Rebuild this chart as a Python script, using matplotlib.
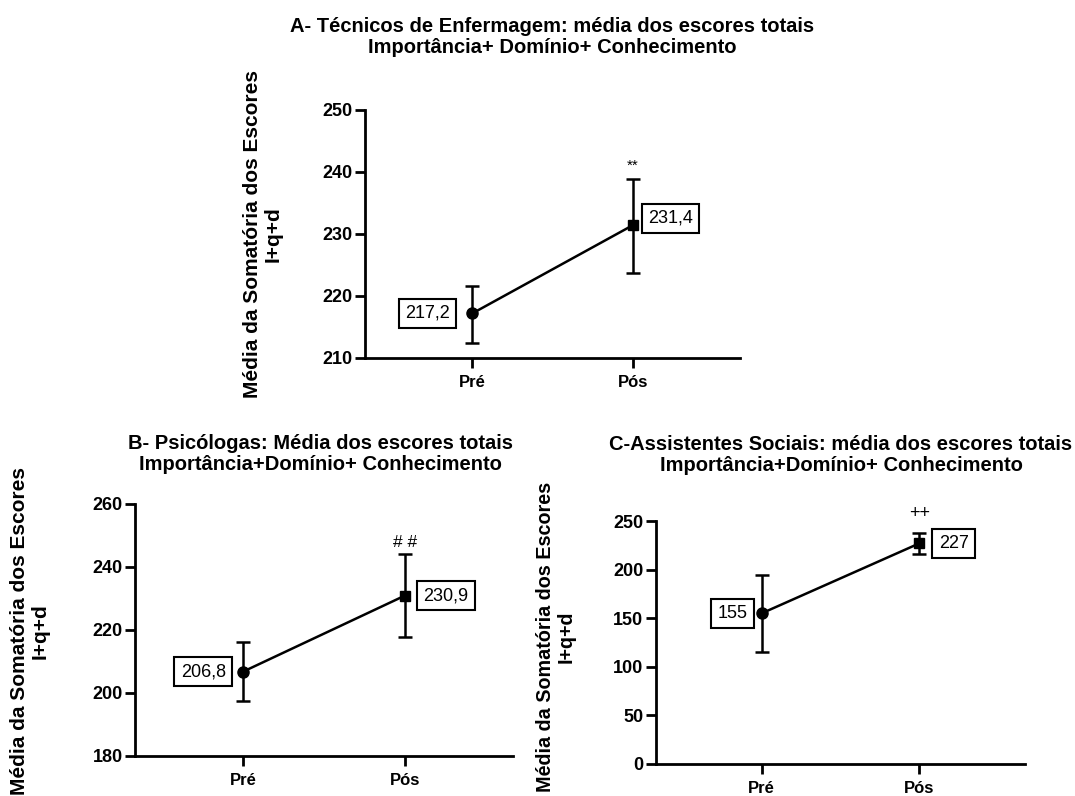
import matplotlib
matplotlib.use("Agg")
import matplotlib.pyplot as plt

plt.rcParams['font.family'] = ['Liberation Sans', 'DejaVu Sans']

categories = ["Pré", "Pós"]

# Panel A
a_means = [217.2, 231.4]
a_low = [212.4, 223.7]
a_high = [221.6, 238.9]
a_labels = ["217,2", "231,4"]
# Panel B
b_means = [206.8, 230.9]
b_low = [197.4, 217.7]
b_high = [216.1, 244.0]
b_labels = ["206,8", "230,9"]
# Panel C
c_means = [155, 227]
c_low = [115.0, 215.8]
c_high = [194.3, 237.7]
c_labels = ["155", "227"]

titles = [
    "A- Técnicos de Enfermagem: média dos escores totais\nImportância+ Domínio+ Conhecimento",
    "B- Psicólogas: Média dos escores totais\nImportância+Domínio+ Conhecimento",
    "C-Assistentes Sociais: média dos escores totais\nImportância+Domínio+ Conhecimento",
]
ylabel = "Média da Somatória dos Escores\nI+q+d"
sig_marks = ["**", "# #", "++"]

fig = plt.figure(figsize=(10.75, 7.96), dpi=100)
W, H = 1075, 796


def rect(l, r, t, b):
    return [l / W, 1 - b / H, (r - l) / W, (b - t) / H]


axA = fig.add_axes(rect(365, 740, 110, 358))
axB = fig.add_axes(rect(135, 513, 504, 756))
axC = fig.add_axes(rect(656, 1025, 521, 764))

panels = [
    dict(ax=axA, means=a_means, low=a_low, high=a_high, labels=a_labels,
         ylim=(210, 250), yticks=[210, 220, 230, 240, 250], sig=sig_marks[0],
         sig_y=241.0, sig_fs=11, gaps=(16, 9), pos_dy=7,
         title=titles[0], title_xy=(552, 37), ylab_xy=(263, 234), ylab_fs=15),
    dict(ax=axB, means=b_means, low=b_low, high=b_high, labels=b_labels,
         ylim=(180, 260), yticks=[180, 200, 220, 240, 260], sig=sig_marks[1],
         sig_y=247.8, sig_fs=12.5, gaps=(11, 12), pos_dy=0,
         title=titles[1], title_xy=(320, 454), ylab_xy=(30, 631), ylab_fs=15),
    dict(ax=axC, means=c_means, low=c_low, high=c_high, labels=c_labels,
         ylim=(0, 250), yticks=[0, 50, 100, 150, 200, 250], sig=sig_marks[2],
         sig_y=258.0, sig_fs=13, gaps=(8, 13), pos_dy=0,
         title=titles[2], title_xy=(841, 455), ylab_xy=(556, 637), ylab_fs=14.2),
]

x = [0, 1]
pad_px = 0.35 * 13 * 100 / 72
for p in panels:
    ax = p['ax']
    means, low, high = p['means'], p['low'], p['high']
    yerr = [[m - l for m, l in zip(means, low)], [h - m for m, h in zip(means, high)]]
    ax.errorbar(x, means, yerr=yerr, fmt='none', ecolor='black', elinewidth=1.8,
                capsize=5, capthick=1.8, zorder=2)
    ax.plot(x, means, color='black', lw=1.8, zorder=3)
    ax.plot(x[0], means[0], 'o', color='black', ms=8, zorder=4)
    ax.plot(x[1], means[1], 's', color='black', ms=7.5, zorder=4)
    ax.set_xlim(-0.67, 1.67)
    ax.set_ylim(*p['ylim'])
    ax.set_yticks(p['yticks'])
    ax.set_xticks(x)
    ax.set_xticklabels(categories, fontweight='bold', fontsize=12)
    for t in ax.get_yticklabels():
        t.set_fontweight('bold')
        t.set_fontsize(13)
    for s in ['top', 'right']:
        ax.spines[s].set_visible(False)
    for s in ['left', 'bottom']:
        ax.spines[s].set_linewidth(2)
    ax.tick_params(axis='both', length=7, width=2, direction='out')
    ax.tick_params(axis='x', pad=5)
    ax.tick_params(axis='y', pad=2)
    g0, g1 = p['gaps']
    ax.annotate(p['labels'][0], xy=(x[0], means[0]), xytext=(-(g0 + pad_px), 0),
                textcoords='offset pixels', ha='right', va='center', fontsize=13,
                bbox=dict(boxstyle='square,pad=0.35', fc='white', ec='black', lw=1.5))
    ax.annotate(p['labels'][1], xy=(x[1], means[1]), xytext=(g1 + pad_px, p['pos_dy']),
                textcoords='offset pixels', ha='left', va='center', fontsize=13,
                bbox=dict(boxstyle='square,pad=0.35', fc='white', ec='black', lw=1.5))
    ax.text(x[1], p['sig_y'], p['sig'], ha='center', va='center',
            fontsize=p['sig_fs'], clip_on=False)

    tx, ty = p['title_xy']
    fig.text(tx / W, 1 - ty / H, p['title'], ha='center', va='center', fontsize=14.5,
             fontweight='bold', linespacing=1.1)
    lx, ly = p['ylab_xy']
    fig.text(lx / W, 1 - ly / H, ylabel, rotation=90,
             ha='center', va='center', fontsize=p['ylab_fs'], fontweight='bold',
             linespacing=1.1)

fig.savefig("out.png", dpi=100)
